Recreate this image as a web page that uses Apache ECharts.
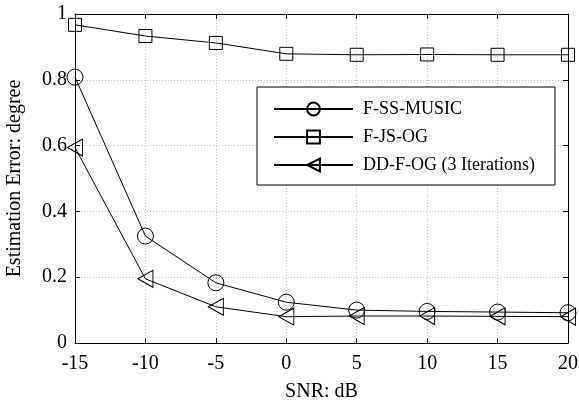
<!DOCTYPE html>
<html>
<head>
<meta charset="utf-8">
<script src="https://cdn.jsdelivr.net/npm/echarts@6/dist/echarts.min.js"></script>
<style>
  html, body { margin: 0; padding: 0; background: #fff; }
  #chart { width: 579px; height: 403px; }
</style>
</head>
<body>
<div id="chart"></div>
<script>
const snr = [-15, -10, -5, 0, 5, 10, 15, 20];
const ssMusic = [0.808, 0.325, 0.183, 0.124, 0.100, 0.096, 0.094, 0.092];
const jsOg = [0.967, 0.933, 0.912, 0.879, 0.876, 0.877, 0.876, 0.876];
const ddFOg = [0.594, 0.195, 0.110, 0.080, 0.082, 0.082, 0.081, 0.080];

const font = 'Liberation Serif';

function pairs(ys) {
  return snr.map((x, i) => [x, ys[i]]);
}

function lineSeries(name, ys, symbol, size, rotate) {
  return {
    name: name,
    type: 'line',
    data: pairs(ys),
    symbol: symbol,
    symbolSize: size,
    symbolRotate: rotate || 0,
    showAllSymbol: true,
    lineStyle: { color: '#000', width: 1 },
    itemStyle: { color: 'transparent', borderColor: '#000', borderWidth: 1 },
    emphasis: { disabled: true },
    animation: false,
  };
}

const chart = echarts.init(document.getElementById('chart'));
// ticks point inward on all four sides, MATLAB style
const tickStyle = { inside: true, length: 5, lineStyle: { color: '#000' } };
const gridLine = { show: true, lineStyle: { color: '#c4c4c4', type: [1, 2] } };

chart.setOption({
  backgroundColor: '#fff',
  animation: false,
  grid: { left: 75, top: 14, right: 11, bottom: 60, outerBoundsMode: 'none', containLabel: false },
  textStyle: { fontFamily: font },
  xAxis: [{
    type: 'value',
    min: -15,
    max: 20,
    interval: 5,
    name: 'SNR: dB',
    nameLocation: 'middle',
    nameGap: 39,
    nameTextStyle: { fontFamily: font, fontSize: 20, color: '#000' },
    axisLine: { onZero: false, lineStyle: { color: '#000' } },
    axisTick: tickStyle,
    axisLabel: { fontFamily: font, fontSize: 20, color: '#000', margin: 11 },
    splitLine: gridLine,
  }, {
    type: 'value',
    position: 'top',
    min: -15,
    max: 20,
    interval: 5,
    axisLine: { onZero: false, lineStyle: { color: '#000' } },
    axisTick: tickStyle,
    axisLabel: { show: false },
    splitLine: { show: false },
  }],
  yAxis: [{
    type: 'value',
    min: 0,
    max: 1,
    interval: 0.2,
    name: 'Estimation Error: degree',
    nameLocation: 'middle',
    nameGap: 50,
    nameTextStyle: { fontFamily: font, fontSize: 20, color: '#000' },
    axisLine: { show: true, onZero: false, lineStyle: { color: '#000' } },
    axisTick: tickStyle,
    axisLabel: {
      fontFamily: font,
      fontSize: 20,
      color: '#000',
      margin: 8,
      formatter: (v) => String(+v.toFixed(1)),
    },
    splitLine: gridLine,
  }, {
    type: 'value',
    position: 'right',
    min: 0,
    max: 1,
    interval: 0.2,
    axisLine: { show: true, onZero: false, lineStyle: { color: '#000' } },
    axisTick: tickStyle,
    axisLabel: { show: false },
    splitLine: { show: false },
  }],
  legend: {
    orient: 'vertical',
    left: 257,
    top: 87,
    padding: [13, 20, 11, 16],
    itemWidth: 79,
    itemHeight: 16,
    itemGap: 10,
    borderColor: '#000',
    borderWidth: 1,
    backgroundColor: '#fff',
    textStyle: { fontFamily: font, fontSize: 18, color: '#000', padding: [0, 0, 0, 5] },
    data: ['F-SS-MUSIC', 'F-JS-OG', 'DD-F-OG (3 Iterations)'],
  },
  series: [
    lineSeries('F-SS-MUSIC', ssMusic, 'circle', 16),
    lineSeries('F-JS-OG', jsOg, 'rect', 13),
    lineSeries('DD-F-OG (3 Iterations)', ddFOg, 'triangle', [17, 15], 90),
  ],
});
</script>
</body>
</html>
